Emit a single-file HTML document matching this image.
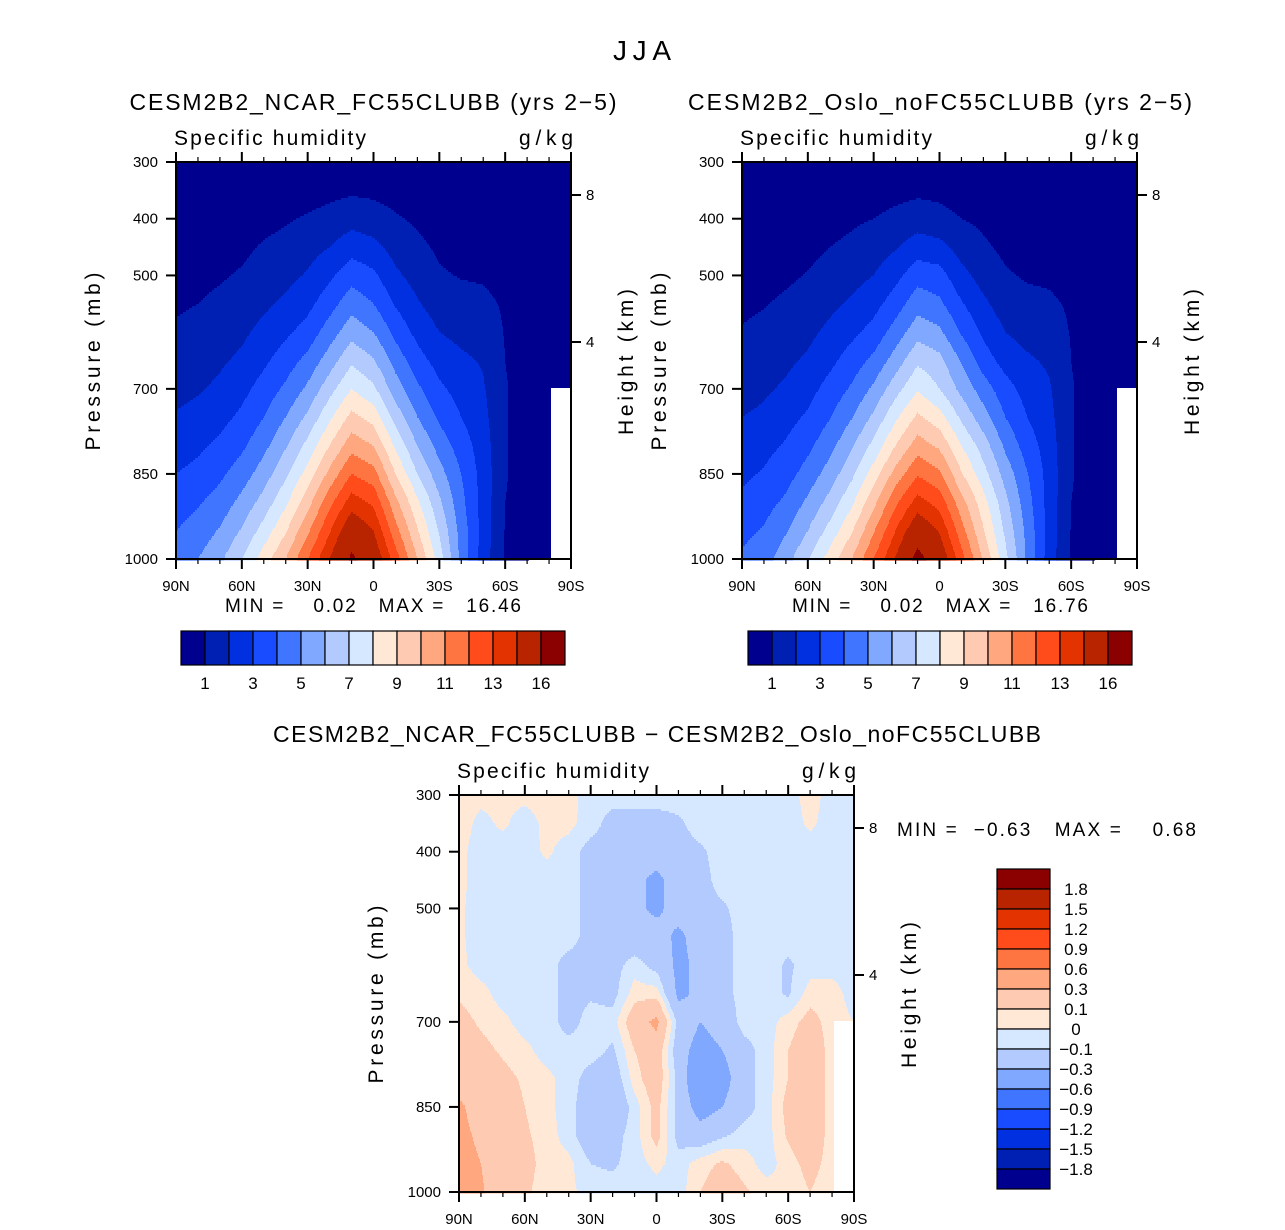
<!DOCTYPE html>
<html><head><meta charset="utf-8"><style>
html,body{margin:0;padding:0;background:#fff}
svg{display:block;font-family:"Liberation Sans",Arial,sans-serif}
.pre{white-space:pre}
</style></head><body>
<svg id="fig" width="1285" height="1230" viewBox="0 0 1285 1230" xmlns="http://www.w3.org/2000/svg">
<rect x="0" y="0" width="1285" height="1230" fill="#fff"/>
<text x="642" y="60" font-size="28" text-anchor="middle" textLength="58" lengthAdjust="spacing">JJA</text>
<g id="p1"></g>
<g id="p2"></g>
<g id="p3"></g>
</svg>
<script>
const lats = [90,80,70,60,50,40,30,20,10,0,-10,-20,-30,-40,-50,-60,-70,-80,-90];
const pressures = [300,350,400,450,500,550,600,650,700,750,800,850,900,950,1000];
const pTicks = [300,400,500,700,850,1000];
const latTicks = [90,60,30,0,-30,-60,-90];
const latTickLabels = ["90N","60N","30N","0","30S","60S","90S"];
const heightTicks = [8,4];
const qLevels = [1,2,3,4,5,6,7,8,9,10,11,12,13,14,16];
const qLevelLabels = ["1","3","5","7","9","11","13","16"];
const dLevels = [-1.8,-1.5,-1.2,-0.9,-0.6,-0.3,-0.1,0,0.1,0.3,0.6,0.9,1.2,1.5,1.8];
const dLevelLabels = ["\u22121.8","\u22121.5","\u22121.2","\u22120.9","\u22120.6","\u22120.3","\u22120.1","0","0.1","0.3","0.6","0.9","1.2","1.5","1.8"];
const palette = ["#00008e","#0020b4","#0030e0","#1a4cff","#3f75ff","#80a8ff","#b3caff","#d6e8ff","#ffe9d6","#ffcab2","#ffa880","#ff7542","#ff4c1a","#e33300","#b82400","#8b0000"];

const qNcar = [
[.1,.1,.1,.15,.2,.25,.3,.35,.4,.4,.35,.3,.25,.2,.15,.1,.1,.05,.05],
[.2,.2,.25,.3,.4,.5,.6,.75,.85,.8,.65,.5,.4,.3,.25,.2,.15,.1,.08],
[.3,.35,.4,.5,.7,.9,1.1,1.3,1.6,1.4,1.1,.85,.6,.5,.4,.3,.2,.15,.1],
[.5,.55,.65,.8,1.1,1.3,1.6,2.0,2.6,2.3,1.6,1.2,.85,.7,.6,.45,.3,.2,.15],
[.7,.75,.9,1.1,1.4,1.7,2.1,2.8,3.6,3.2,2.2,1.6,1.1,.95,.9,.7,.45,.3,.2],
[.9,1.0,1.2,1.4,1.8,2.2,2.7,3.6,4.6,4.0,2.9,2.1,1.5,1.3,1.2,.9,.6,.4,.3],
[1.1,1.25,1.5,1.8,2.3,2.8,3.4,4.5,5.6,5.0,3.7,2.7,2.0,1.7,1.5,.95,.7,.5,.35],
[1.4,1.55,1.85,2.2,2.8,3.5,4.3,5.5,6.8,6.1,4.6,3.4,2.6,2.2,1.9,1.0,.7,.6,.4],
[1.7,1.9,2.2,2.7,3.4,4.2,5.2,6.6,8.0,7.2,5.5,4.2,3.2,2.6,2.1,1.05,.7,.6,null],
[2.1,2.3,2.7,3.2,4.0,5.0,6.2,7.8,9.3,8.6,6.6,5.0,3.8,3.0,2.3,1.05,.7,.6,null],
[2.5,2.8,3.2,3.8,4.7,5.9,7.3,9.0,10.6,10.0,7.8,6.0,4.6,3.5,2.5,1.05,.7,.6,null],
[3.0,3.3,3.8,4.5,5.5,6.8,8.4,10.3,12.0,11.4,9.0,7.0,5.4,4.0,2.6,1.05,.7,.6,null],
[3.5,3.9,4.4,5.3,6.4,7.8,9.6,11.7,13.5,12.8,10.3,8.2,6.2,4.3,2.6,1.0,.7,.6,null],
[4.0,4.4,5.1,6.1,7.4,8.9,10.8,12.9,15.0,14.0,11.4,9.1,6.9,4.6,2.6,.95,.7,.6,null],
[4.5,5.0,5.8,7.0,8.5,10.0,12.0,14.0,16.3,15.0,12.5,10.0,7.5,4.7,2.5,.9,.7,null,null]];

const qOslo = [
[.1,.1,.1,.12,.18,.22,.28,.33,.38,.38,.33,.28,.22,.18,.14,.1,.1,.05,.05],
[.18,.18,.22,.28,.36,.45,.55,.7,.8,.75,.6,.45,.36,.28,.22,.18,.14,.1,.08],
[.28,.32,.38,.46,.65,.85,1.0,1.25,1.5,1.3,1.0,.8,.55,.45,.38,.28,.2,.15,.1],
[.45,.5,.6,.75,1.0,1.2,1.5,1.9,2.5,2.3,1.6,1.15,.8,.65,.55,.42,.28,.2,.15],
[.65,.7,.85,1.05,1.35,1.65,2.0,2.7,3.6,3.4,2.3,1.6,1.1,.9,.85,.68,.42,.3,.2],
[.85,.95,1.15,1.35,1.75,2.15,2.65,3.5,4.6,4.2,3.1,2.2,1.5,1.25,1.15,.88,.58,.4,.3],
[1.05,1.2,1.45,1.75,2.25,2.75,3.35,4.45,5.6,5.2,3.9,2.8,2.0,1.65,1.45,.95,.7,.5,.35],
[1.35,1.5,1.8,2.15,2.75,3.45,4.25,5.45,6.8,6.3,4.9,3.5,2.6,2.15,1.85,1.0,.7,.6,.4],
[1.6,1.85,2.15,2.65,3.35,4.15,5.2,6.6,7.9,7.0,5.7,4.5,3.4,2.6,2.1,1.05,.7,.6,null],
[2.0,2.2,2.65,3.15,3.95,4.95,6.2,7.8,9.2,8.4,6.8,5.4,4.0,3.0,2.3,1.05,.7,.6,null],
[2.4,2.7,3.1,3.75,4.65,5.85,7.3,9.0,10.5,9.8,8.0,6.5,4.8,3.5,2.5,1.05,.7,.6,null],
[2.8,3.1,3.6,4.4,5.45,6.75,8.45,10.4,11.9,11.2,9.1,7.4,5.6,4.05,2.6,1.05,.7,.6,null],
[3.2,3.6,4.2,5.2,6.35,7.8,9.7,11.8,13.4,12.6,10.4,8.4,6.3,4.4,2.6,1.0,.7,.6,null],
[3.7,4.1,4.9,6.0,7.35,8.9,10.9,13.0,15.0,13.9,11.4,9.1,6.8,4.7,2.6,.95,.7,.6,null],
[4.2,4.6,5.6,6.9,8.45,10.0,12.0,14.1,16.6,15.0,12.4,9.9,7.3,4.8,2.5,.9,.7,null,null]];

const qDiff = [
[.05,.03,.03,.03,.04,.04,-.05,-.05,-.05,-.05,-.05,-.05,-.05,-.05,-.05,-.05,.05,-.05,-.05],
[.05,-.03,.02,-.05,.03,.03,-.05,-.15,-.15,-.15,-.12,-.05,-.05,-.05,-.05,-.05,.02,-.05,-.05],
[.03,-.05,-.05,-.05,.02,-.05,-.15,-.15,-.2,-.2,-.15,-.12,-.05,-.05,-.05,-.05,-.05,-.05,-.05],
[.03,-.05,-.05,-.05,-.05,-.05,-.15,-.2,-.25,-.35,-.2,-.15,-.05,-.05,-.05,-.05,-.05,-.05,-.05],
[.02,-.05,-.05,-.05,-.05,-.05,-.15,-.2,-.25,-.35,-.2,-.15,-.12,-.05,-.05,-.05,-.05,-.05,-.05],
[.02,-.05,-.05,-.05,-.05,-.05,-.15,-.2,-.2,-.2,-.35,-.2,-.15,-.05,-.05,-.05,-.05,-.05,-.05],
[.03,-.05,-.05,-.05,-.05,-.15,-.15,-.15,-.05,-.15,-.35,-.25,-.15,-.05,-.05,-.12,-.05,-.05,-.05],
[.08,.04,-.05,-.05,-.05,-.15,-.12,-.15,.05,.05,-.35,-.25,-.15,-.05,-.05,-.12,.05,.05,-.05],
[.15,.08,.03,-.05,-.05,-.15,-.05,-.05,.2,.35,-.15,-.3,-.2,-.05,-.05,.05,.15,.05,null],
[.18,.14,.08,.03,-.05,-.05,-.05,-.12,.1,.2,-.2,-.4,-.3,-.15,-.05,.1,.2,.05,null],
[.25,.2,.14,.08,.03,-.05,-.15,-.2,.05,.2,-.15,-.55,-.4,-.15,-.05,.1,.2,.05,null],
[.32,.25,.18,.1,.03,-.05,-.2,-.25,-.05,.15,-.15,-.4,-.3,-.15,-.05,.15,.2,.05,null],
[.33,.28,.2,.12,.05,-.05,-.2,-.15,-.05,.15,-.15,-.2,-.12,-.05,-.05,.12,.2,.05,null],
[.34,.3,.2,.15,.05,.03,-.1,-.12,-.05,.03,-.05,.05,.12,.05,-.05,.05,.15,.05,null],
[.33,.32,.2,.12,.05,.03,-.05,-.05,-.05,-.05,-.05,.1,.2,.12,.05,.02,.1,.02,null]];

const NS = "http://www.w3.org/2000/svg";
function mk(parent, tag, attrs, text){
  const e = document.createElementNS(NS, tag);
  for (const k in attrs) e.setAttribute(k, attrs[k]);
  if (text !== undefined) e.textContent = text;
  parent.appendChild(e);
  return e;
}
function colorFor(v, levels){
  let i = 0;
  while (i < levels.length && v >= levels[i]) i++;
  return palette[i];
}
function sample(grid, c, r){
  const nc = lats.length - 1, nr = pressures.length - 1;
  c = Math.max(0, Math.min(nc, c)); r = Math.max(0, Math.min(nr, r));
  const c0 = Math.min(nc - 1, Math.floor(c)), r0 = Math.min(nr - 1, Math.floor(r));
  const fc = c - c0, fr = r - r0;
  const a = grid[r0][c0], b = grid[r0][c0+1], d = grid[r0+1][c0], e = grid[r0+1][c0+1];
  if (a === null || b === null || d === null || e === null) {
    const nearest = grid[Math.min(nr, Math.floor(r + 0.001))][Math.min(nc, Math.floor(c + 0.9))];
    if (nearest === null) return null;
    const vals = [[a,(1-fc)*(1-fr)],[b,fc*(1-fr)],[d,(1-fc)*fr],[e,fc*fr]].filter(t => t[0] !== null);
    let s = 0, w = 0; vals.forEach(t => { s += t[0]*t[1]; w += t[1]; });
    return w > 0 ? s / w : 0;
  }
  return a*(1-fc)*(1-fr) + b*fc*(1-fr) + d*(1-fc)*fr + e*fc*fr;
}

function drawPanel(g, grid, levels, geo){
  const x0 = geo.x, y0 = geo.y, w = 395, h = 397;
  const xS = lat => x0 + (90 - lat) / 180 * w;
  const yS = p => y0 + (p - 300) / 700 * h;
  const field = mk(g, "g", {});
  
  
  const step = 2;
  for (let y = 0; y < h; y += step) {
    const r = (y + step / 2) / h * (pressures.length - 1);
    let runStart = 0, runCol = null;
    for (let x = 0; x <= w; x++) {
      let col = null;
      if (x < w) {
        const c = (x + 0.5) / w * (lats.length - 1);
        const v = sample(grid, c, r);
        col = v === null ? "#ffffff" : colorFor(v, levels);
      }
      if (col !== runCol) {
        if (runCol !== null) {
          const rc = mk(field, "rect", {x: x0 + runStart, y: y0 + y, width: x - runStart + 0.6, height: step + 0.6, fill: runCol});
          
          
        }
        runStart = x; runCol = col;
      }
    }
  }
  const fr = mk(g, "rect", {x: x0, y: y0, width: w, height: h, fill: "none", stroke: "#000", "stroke-width": 2});
  
  
  for (let lat = 90; lat >= -90; lat -= 10) {
    const major = lat % 30 === 0;
    const len = major ? 10 : 5;
    const x = xS(lat);
    mk(g, "line", {x1: x, x2: x, y1: y0, y2: y0 - len, stroke: "#000", "stroke-width": major ? 2 : 1.2});
    mk(g, "line", {x1: x, x2: x, y1: y0 + h, y2: y0 + h + len, stroke: "#000", "stroke-width": major ? 2 : 1.2});
  }
  latTicks.forEach((lat, i) => {
    const t = mk(g, "text", {x: xS(lat), y: y0 + h + 32, "font-size": 15, "text-anchor": "middle"}, latTickLabels[i]);
    
    
  });
  pTicks.forEach(p => {
    const y = yS(p);
    mk(g, "line", {x1: x0, x2: x0 - 10, y1: y, y2: y, stroke: "#000", "stroke-width": 2});
    const t = mk(g, "text", {x: x0 - 18, y: y + 5, "font-size": 15, "text-anchor": "end"}, String(p));
    
    
  });
  const hOff = {8: 33, 4: 180};
  heightTicks.forEach(hk => {
    const y = y0 + hOff[hk];
    mk(g, "line", {x1: x0 + w, x2: x0 + w + 10, y1: y, y2: y, stroke: "#000", "stroke-width": 2});
    const t = mk(g, "text", {x: x0 + w + 15, y: y + 5, "font-size": 15}, String(hk));
    
    
  });
  let t = mk(g, "text", {x: x0 - 2, y: y0 - 17, "font-size": 21, textLength: 192, lengthAdjust: "spacing"}, "Specific humidity");
  
  
  t = mk(g, "text", {x: x0 + w + 2, y: y0 - 17, "font-size": 21, "text-anchor": "end", textLength: 54, lengthAdjust: "spacing"}, "g/kg");
  
  
  t = mk(g, "text", {x: 0, y: 0, "font-size": 21, "text-anchor": "middle", textLength: 178, lengthAdjust: "spacing", transform: `translate(${x0 - 76},${y0 + h/2 + 1}) rotate(-90)`}, "Pressure (mb)");
  
  
  t = mk(g, "text", {x: 0, y: 0, "font-size": 21, "text-anchor": "middle", textLength: 146, lengthAdjust: "spacing", transform: `translate(${x0 + w + 62},${y0 + 200}) rotate(-90)`}, "Height (km)");
  
  
}

function hColorbar(g, x, y){
  const bw = 24, bh = 34;
  palette.forEach((c, i) => {
    const r = mk(g, "rect", {x: x + i * bw, y: y, width: bw, height: bh, fill: c, stroke: "#000", "stroke-width": 1.2});
    
    
  });
  qLevelLabels.forEach((lab, i) => {
    const t = mk(g, "text", {x: x + (2 * i + 1) * bw, y: y + 58, "font-size": 17, "text-anchor": "middle"}, lab);
    
    
  });
}
function vColorbar(g, x, y){
  const bw = 53, bh = 20;
  for (let i = 0; i < palette.length; i++) {
    const r = mk(g, "rect", {x: x, y: y + i * bh, width: bw, height: bh, fill: palette[palette.length - 1 - i], stroke: "#000", "stroke-width": 1.2});
    
    
  }
  for (let k = 0; k < dLevelLabels.length; k++) {
    const t = mk(g, "text", {x: x + 79, y: y + (k + 1) * bh + 6, "font-size": 17, "text-anchor": "middle"}, dLevelLabels[dLevelLabels.length - 1 - k]);
    
    
  }
}

const p1 = document.getElementById("p1");
drawPanel(p1, qNcar, qLevels, {x: 176, y: 162});
let tt = mk(p1, "text", {x: 373, y: 110, "font-size": 23, "text-anchor": "middle", textLength: 487, lengthAdjust: "spacing"}, "CESM2B2_NCAR_FC55CLUBB (yrs 2\u22125)");


tt = mk(p1, "text", {x: 373, y: 612, "font-size": 19, "text-anchor": "middle", class: "pre", textLength: 296, lengthAdjust: "spacing"}, "MIN =    0.02   MAX =   16.46");


hColorbar(p1, 181, 631);

const p2 = document.getElementById("p2");
drawPanel(p2, qOslo, qLevels, {x: 742, y: 162});
tt = mk(p2, "text", {x: 940, y: 110, "font-size": 23, "text-anchor": "middle", textLength: 504, lengthAdjust: "spacing"}, "CESM2B2_Oslo_noFC55CLUBB (yrs 2\u22125)");


tt = mk(p2, "text", {x: 940, y: 612, "font-size": 19, "text-anchor": "middle", class: "pre", textLength: 296, lengthAdjust: "spacing"}, "MIN =    0.02   MAX =   16.76");


hColorbar(p2, 748, 631);

const p3 = document.getElementById("p3");
drawPanel(p3, qDiff, dLevels, {x: 459, y: 795});
tt = mk(p3, "text", {x: 657, y: 742, "font-size": 23, "text-anchor": "middle", textLength: 768, lengthAdjust: "spacing"}, "CESM2B2_NCAR_FC55CLUBB \u2212 CESM2B2_Oslo_noFC55CLUBB");


tt = mk(p3, "text", {x: 897, y: 836, "font-size": 19, class: "pre", textLength: 299, lengthAdjust: "spacing"}, "MIN =  \u22120.63   MAX =    0.68");


vColorbar(p3, 997, 869);
</script>
</body></html>
